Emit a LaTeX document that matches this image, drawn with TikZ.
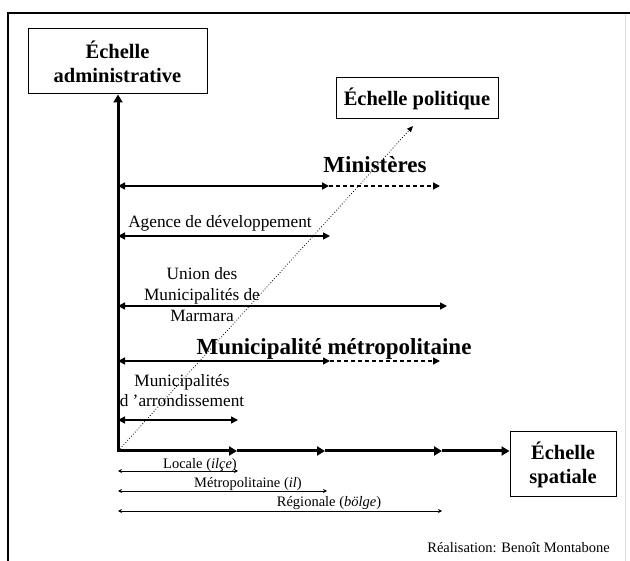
\documentclass[tikz,border=0pt]{standalone}
\usepackage{fontspec}
\setmainfont{Liberation Serif}
\usetikzlibrary{arrows.meta}
\definecolor{edge_grey}{RGB}{225,225,225}

\begin{document}
\begin{tikzpicture}[x=1pt, y=-1pt,
    every node/.style={inner sep=0pt, align=center, font=\fontsize{17.3}{21}\selectfont},
    scalebox/.style={draw, line width=1pt, font=\bfseries\fontsize{20.5}{24}\selectfont},
    biglabel/.style={font=\bfseries\fontsize{23}{27}\selectfont},
    smalllabel/.style={font=\fontsize{14.5}{17}\selectfont},
    axisline/.style={line width=3pt, -{Triangle[length=8pt,width=9pt]}},
    rowarrow/.style={line width=1.5pt, {Triangle[length=7pt,width=7pt]}-{Triangle[length=7pt,width=7pt]}},
    rowdash/.style={line width=1.5pt, dash pattern=on 4pt off 3pt, -{Triangle[length=7pt,width=7pt]}},
    thinarrow/.style={line width=0.8pt, {Stealth[length=4pt,width=4pt]}-{Stealth[length=4pt,width=4pt]}}]
      \useasboundingbox (0,0) rectangle (630,561);
      \draw[line width=2pt] (8,561) -- (8,13) -- (630,13);
      \draw[edge_grey, line width=1pt] (625,14) -- (625,561);

      \node[scalebox, minimum width=179pt, minimum height=65pt] (admin) at (117.5,61.5) {Échelle\\administrative};
      \node[scalebox, minimum width=162pt, minimum height=41pt] (pol) at (417,98.5) {Échelle politique};
      \node[scalebox, minimum width=106pt, minimum height=65pt] (spat) at (563,464.5) {Échelle\\spatiale};

      \coordinate (O) at (118,451);
      \coordinate (t1) at (237,451);
      \coordinate (t2) at (325,451);
      \coordinate (t3) at (442,451);
      \coordinate (diag) at (413,126);

      \draw[axisline] (O) -- (admin.south -| O);
      \draw[axisline] ([xshift=-1.5pt]O) -- (t1);
      \draw[axisline] (t1) -- (t2);
      \draw[axisline] (t2) -- (t3);
      \draw[axisline] (t3) -- (spat.west |- O);
      \draw[line width=0.8pt, dotted, -{Triangle[length=6pt,width=5pt]}] (O) -- (diag);

      % rows of the administrative scale
      \node[biglabel, anchor=base] (minL) at (375,173) {Ministères};
      \coordinate (min0) at (118,186);
      \coordinate (min1) at (329,186);
      \coordinate (min2) at (440,186);
      \draw[rowarrow] (min0) -- (min1);
      \draw[rowdash] (min1) -- (min2);

      \node[anchor=base] (ageL) at (220,228) {Agence de développement};
      \coordinate (age0) at (118,236);
      \coordinate (age1) at (330,236);
      \draw[rowarrow] (age0) -- (age1);

      \node[anchor=base] (uniL) at (202,322) {Union des\\Municipalités de\\Marmara};
      \coordinate (uni0) at (118,306);
      \coordinate (uni1) at (447,306);
      \draw[rowarrow] (uni0) -- (uni1);

      \node[biglabel, anchor=base] (metL) at (334,355) {Municipalité métropolitaine};
      \coordinate (met0) at (118,361);
      \coordinate (met1) at (330,361);
      \coordinate (met2) at (440,361);
      \draw[rowarrow] (met0) -- (met1);
      \draw[rowdash] (met1) -- (met2);

      \node[anchor=base, font=\fontsize{17.3}{20}\selectfont] (arrL) at (182,407) {Municipalités\\d 'arrondissement};
      \coordinate (arr0) at (118,420);
      \coordinate (arr1) at (238,420);
      \draw[rowarrow] (arr0) -- (arr1);

      % spatial scale
      \node[smalllabel, anchor=base] (locL) at (200,469) {Locale (\textit{ilçe})};
      \coordinate (loc0) at (118,471);
      \coordinate (loc1) at (238,471);
      \draw[thinarrow] (loc0) -- (loc1);

      \node[smalllabel, anchor=base] (ilL) at (248,488) {Métropolitaine (\textit{il})};
      \coordinate (il0) at (118,491);
      \coordinate (il1) at (327,491);
      \draw[thinarrow] (il0) -- (il1);

      \node[smalllabel, anchor=base] (regL) at (329,507) {Régionale (\textit{bölge})};
      \coordinate (reg0) at (118,511);
      \coordinate (reg1) at (442,511);
      \draw[thinarrow] (reg0) -- (reg1);

      \node[smalllabel, anchor=base east] (credit) at (610,553) {Réalisation: Benoît Montabone};
    \end{tikzpicture}
\end{document}
